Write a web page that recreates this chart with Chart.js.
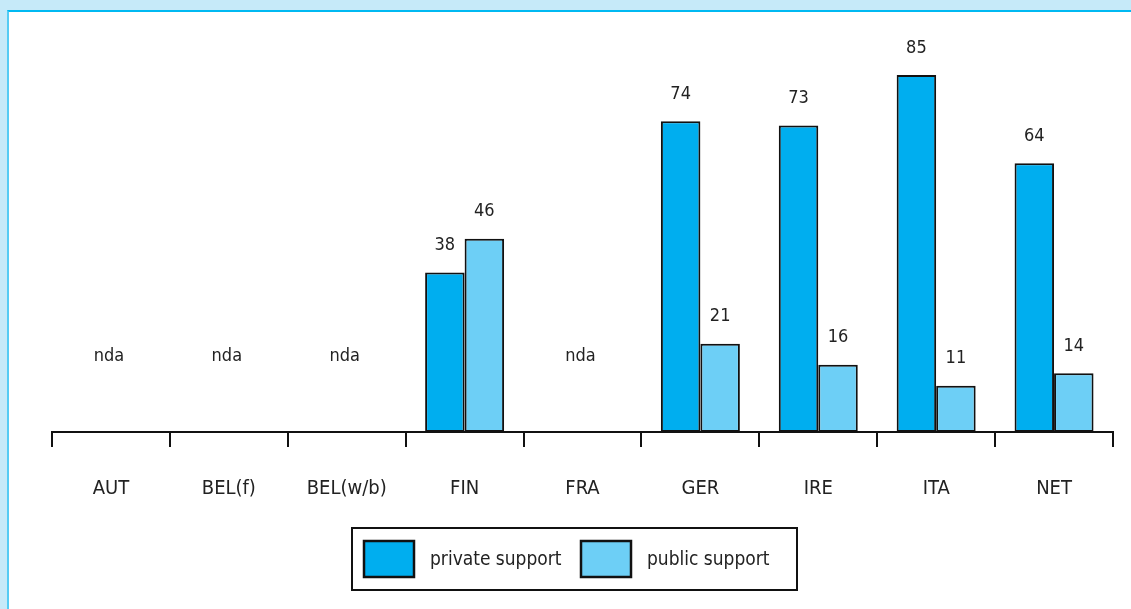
<!DOCTYPE html>
<html>
<head>
<meta charset="utf-8">
<script src="https://cdn.jsdelivr.net/npm/chart.js@4"></script>
<style>
  html, body { margin: 0; padding: 0; background: #c6eaf9; }
  #frame {
    position: absolute; left: 7px; top: 10px; width: 1124px; height: 599px;
    background: #fff; border-top: 2px solid #00b9f2; border-left: 2px solid #55ccf4;
    box-sizing: border-box;
  }
  #wrap { position: absolute; left: 0; top: 0; width: 1131px; height: 609px; }
</style>
</head>
<body>
<div id="frame"></div>
<div id="wrap"><canvas id="chart" width="1131" height="609"></canvas></div>
<script>
const categories = ['AUT', 'BEL(f)', 'BEL(w/b)', 'FIN', 'FRA', 'GER', 'IRE', 'ITA', 'NET'];
const privateSupport = [null, null, null, 38, null, 74, 73, 85, 64];
const publicSupport = [null, null, null, 46, null, 21, 16, 11, 14];
const seriesNames = ['private support', 'public support'];
const noDataText = 'nda';

const FONT = '"Liberation Sans Narrow", "DejaVu Sans Condensed", "Roboto", sans-serif';
const ctx = document.getElementById('chart').getContext('2d');

const labelPlugin = {
  id: 'labels',
  afterDatasetsDraw(chart) {
    const c = chart.ctx;
    const x = chart.scales.x, y = chart.scales.y;
    c.save();
    c.fillStyle = '#222';
    c.font = '18px ' + FONT;
    c.textAlign = 'center';
    c.textBaseline = 'middle';
    chart.data.datasets.forEach((ds, i) => {
      chart.getDatasetMeta(i).data.forEach((bar, j) => {
        if (ds.data[j] == null) return;
        c.fillText(ds.data[j], bar.x, bar.y - 27);
      });
    });
    categories.forEach((cat, j) => {
      if (privateSupport[j] == null && publicSupport[j] == null) {
        c.fillText(noDataText, x.getPixelForValue(j) - 2, y.getPixelForValue(18));
      }
    });

    // legend box
    const lx = 352, ly = 528, lw = 445, lh = 62;
    c.lineWidth = 2;
    c.strokeStyle = '#111';
    c.strokeRect(lx, ly, lw, lh);
    const items = [[364, 430], [581, 647]];
    chart.data.datasets.forEach((ds, i) => {
      const [bx, tx] = items[i];
      c.fillStyle = ds.backgroundColor;
      c.fillRect(bx, ly + 13, 50, 36);
      c.lineWidth = 2.5;
      c.strokeRect(bx, ly + 13, 50, 36);
      c.fillStyle = '#222';
      c.textAlign = 'left';
      c.font = '19px ' + FONT;
      c.fillText(ds.label, tx, ly + 32);
    });
    c.restore();
  }
};

new Chart(ctx, {
  type: 'bar',
  data: {
    labels: categories,
    datasets: [
      { label: seriesNames[0], data: privateSupport, backgroundColor: '#00aeef',
        borderColor: '#111', borderWidth: 2, borderSkipped: false },
      { label: seriesNames[1], data: publicSupport, backgroundColor: '#6dcff6',
        borderColor: '#111', borderWidth: 2, borderSkipped: false }
    ]
  },
  options: {
    responsive: false,
    animation: false,
    categoryPercentage: 0.67,
    barPercentage: 1,
    layout: { padding: { left: 52, right: 18, top: 12, bottom: 78 } },
    plugins: { legend: { display: false }, tooltip: { enabled: false } },
    scales: {
      y: { display: false, min: 0, max: 100 },
      x: {
        border: { display: true, color: '#111', width: 2 },
        grid: { offset: true, drawOnChartArea: false, drawTicks: true, tickLength: 15,
                color: '#111', lineWidth: 2 },
        ticks: { color: '#222', padding: 30, font: { family: FONT, size: 20 } }
      }
    }
  },
  plugins: [labelPlugin]
});
</script>
</body>
</html>
